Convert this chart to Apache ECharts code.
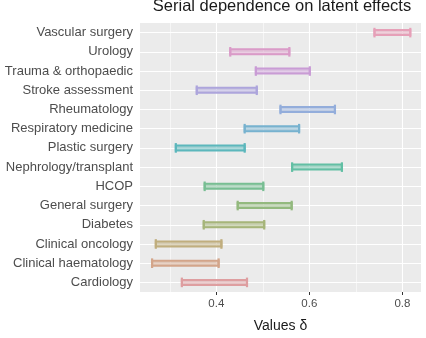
<!DOCTYPE html>
<html>
<head>
<meta charset="utf-8">
<script src="https://cdn.jsdelivr.net/npm/echarts@6/dist/echarts.min.js"></script>
<style>
  html, body { margin: 0; padding: 0; background: #fff; }
  #chart { width: 426px; height: 338px; }
</style>
</head>
<body>
<div id="chart"></div>
<script>
// categories from bottom to top
var categories = ['Cardiology', 'Clinical haematology', 'Clinical oncology', 'Diabetes',
  'General surgery', 'HCOP', 'Nephrology/transplant', 'Plastic surgery',
  'Respiratory medicine', 'Rheumatology', 'Stroke assessment', 'Trauma & orthopaedic',
  'Urology', 'Vascular surgery']
var lower = [0.326, 0.262, 0.270, 0.373, 0.446, 0.375, 0.563, 0.313, 0.461, 0.538, 0.358, 0.485, 0.430, 0.740]
var upper = [0.466, 0.405, 0.411, 0.503, 0.562, 0.501, 0.670, 0.461, 0.578, 0.655, 0.487, 0.601, 0.557, 0.817]
var colors = ['#DE9EA0', '#D3A58A', '#C0AE7E', '#A6B57A', '#93B97E', '#78BE93', '#62BFA4',
  '#5CB7BC', '#77B2CF', '#93ADDB', '#ADA5DC', '#C99CD5', '#DA9BC8', '#E6A0B8']
var majorTicks = [0.4, 0.6, 0.8]
var minorTicks = [0.3, 0.5, 0.7]

var chart = echarts.init(document.getElementById('chart'))
var font = 'Liberation Sans, Arial, sans-serif'

var option = {
  animation: false,
  title: {
    text: 'Serial dependence on latent effects',
    left: 277,
    textAlign: 'center',
    top: -7,
    textStyle: { fontFamily: font, fontSize: 16.5, fontWeight: 'normal', color: '#1a1a1a' }
  },
  grid: { left: 140, right: 5, top: 23, bottom: 43, backgroundColor: '#EBEBEB', show: true, borderWidth: 0 },
  xAxis: [
    {
      type: 'value', min: 0.236, max: 0.84,
      name: 'Values δ', nameLocation: 'middle', nameGap: 27,
      nameTextStyle: { fontFamily: font, fontSize: 14, color: '#1a1a1a' },
      axisLine: { show: false },
      axisTick: { show: true, length: 3, lineStyle: { color: '#333' }, customValues: majorTicks },
      axisLabel: { customValues: majorTicks, margin: 6, fontFamily: font, fontSize: 11.5, color: '#4D4D4D',
        formatter: function (v) { return v.toFixed(1) } },
      splitLine: { show: true, lineStyle: { color: '#fff', width: 1.1 } }
    },
    {
      type: 'value', min: 0.236, max: 0.84, position: 'bottom',
      axisLine: { show: false },
      axisTick: { show: false, customValues: minorTicks },
      axisLabel: { show: false, customValues: minorTicks },
      splitLine: { show: true, lineStyle: { color: '#fff', width: 0.55 } }
    }
  ],
  yAxis: {
    type: 'category', data: categories,
    axisLine: { show: false },
    axisTick: { show: false, alignWithLabel: true },
    axisLabel: { margin: 7, fontFamily: font, fontSize: 13, color: '#4D4D4D' },
    splitLine: { show: true, alignWithLabel: true, lineStyle: { color: '#fff', width: 1.1 } }
  },
  series: [{
    type: 'custom',
    xAxisIndex: 0,
    data: categories.map(function (c, i) { return [i, lower[i], upper[i]] }),
    encode: { y: 0, x: [1, 2] },
    renderItem: function (params, api) {
      var i = api.value(0)
      var a = api.coord([api.value(1), i])
      var b = api.coord([api.value(2), i])
      var col = colors[i]
      var y = a[1], h = 5, cap = 4.8
      return {
        type: 'group',
        children: [
          { type: 'rect', shape: { x: a[0], y: y - h / 2, width: b[0] - a[0], height: h },
            style: { fill: echarts.color.modifyAlpha(col, 0.5), stroke: col, lineWidth: 2 } },
          { type: 'line', shape: { x1: a[0], y1: y - cap, x2: a[0], y2: y + cap },
            style: { stroke: col, lineWidth: 2.2 } },
          { type: 'line', shape: { x1: b[0], y1: y - cap, x2: b[0], y2: y + cap },
            style: { stroke: col, lineWidth: 2.2 } }
        ]
      }
    }
  }]
}
chart.setOption(option)
</script>
</body>
</html>
